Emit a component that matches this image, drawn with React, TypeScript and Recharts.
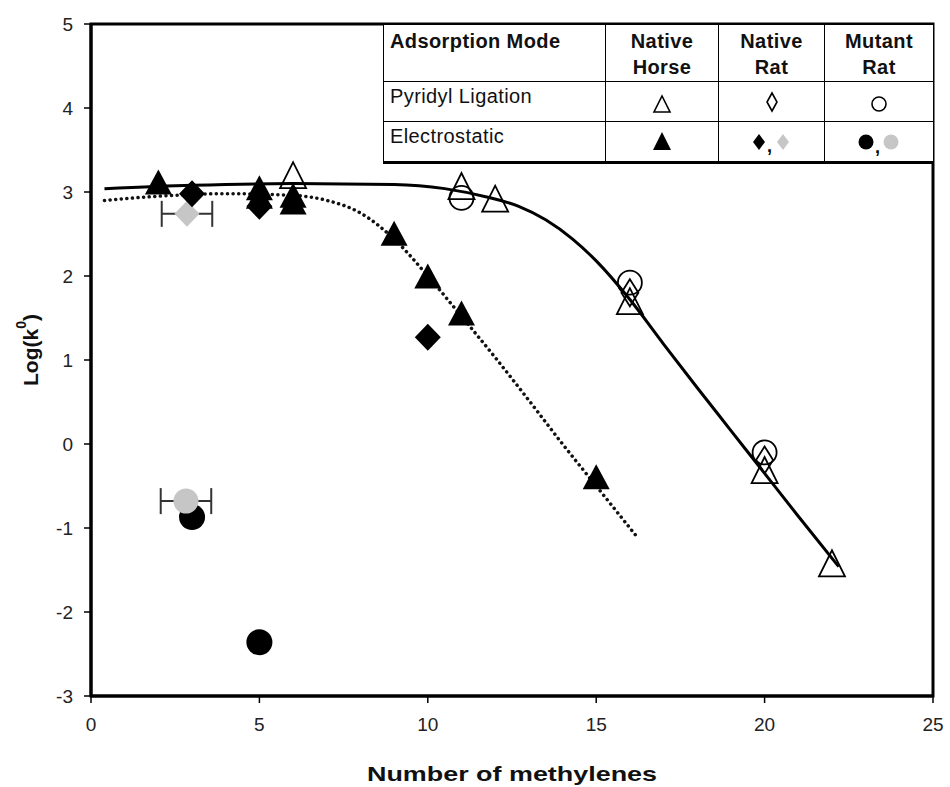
import React from 'react';
import { ComposedChart, Scatter, Line, XAxis, YAxis, ReferenceArea, ErrorBar, Label } from 'recharts';

// x ticks / y ticks
const xTicks = [0, 5, 10, 15, 20, 25];
const yTicks = [-3, -2, -1, 0, 1, 2, 3, 4, 5];

// pyridyl ligation (open symbols)
const horsePyridyl = [
  { x: 6, y: 3.2 }, { x: 11, y: 3.07 }, { x: 12, y: 2.92 },
  { x: 16, y: 1.7 }, { x: 20, y: -0.31 }, { x: 22, y: -1.42 },
];
const ratPyridyl = [{ x: 16, y: 1.8 }, { x: 20, y: -0.19 }];
const mutantPyridyl = [{ x: 11, y: 2.93 }, { x: 16, y: 1.92 }, { x: 20, y: -0.1 }];

// electrostatic (filled symbols)
const horseElectro = [
  { x: 2, y: 3.12 }, { x: 5, y: 3.05 }, { x: 5, y: 2.95 }, { x: 6, y: 2.96 }, { x: 6, y: 2.88 },
  { x: 9, y: 2.51 }, { x: 10, y: 2.0 }, { x: 11, y: 1.56 }, { x: 15, y: -0.39 },
];
const ratElectro = [{ x: 3, y: 2.98 }, { x: 5, y: 2.83 }, { x: 10, y: 1.27 }];
const ratElectroGray = [{ x: 2.85, y: 2.74, err: 0.75 }];
const mutantElectro = [{ x: 3, y: -0.87 }, { x: 5, y: -2.36 }];
const mutantElectroGray = [{ x: 2.82, y: -0.68, err: 0.75 }];

// fitted curves
const pyridylFit = [
  { x: 0.4, y: 3.04 }, { x: 3, y: 3.08 }, { x: 6, y: 3.1 }, { x: 9, y: 3.09 }, { x: 10.5, y: 3.04 },
  { x: 11.75, y: 2.94 }, { x: 12.7, y: 2.83 }, { x: 13.5, y: 2.67 }, { x: 14.3, y: 2.44 }, { x: 15, y: 2.18 },
  { x: 16, y: 1.72 }, { x: 17, y: 1.19 }, { x: 18, y: 0.67 }, { x: 19, y: 0.16 }, { x: 20, y: -0.35 },
  { x: 21, y: -0.86 }, { x: 22.2, y: -1.46 },
];
const electroFit = [
  { x: 0.4, y: 2.9 }, { x: 2, y: 2.95 }, { x: 4, y: 2.98 }, { x: 6, y: 2.96 }, { x: 7, y: 2.9 },
  { x: 8, y: 2.75 }, { x: 9, y: 2.44 }, { x: 10, y: 2.0 }, { x: 11, y: 1.52 }, { x: 12, y: 1.03 },
  { x: 13, y: 0.52 }, { x: 14, y: 0.0 }, { x: 15, y: -0.5 }, { x: 16.2, y: -1.1 },
];

const GRAY = '#c6c6c6';
const FONT = '"Liberation Sans", Arial, sans-serif';

const tri = (fill: string, stroke: string, w: number, h: number) => (p: any) => (
  <polygon
    points={`${p.cx - w / 2},${p.cy + h / 2} ${p.cx + w / 2},${p.cy + h / 2} ${p.cx},${p.cy - h / 2}`}
    fill={fill} stroke={stroke} strokeWidth={1.8} strokeLinejoin="miter"
  />
);
const dia = (fill: string, stroke: string, w: number, h: number) => (p: any) => (
  <polygon
    points={`${p.cx},${p.cy - h / 2} ${p.cx + w / 2},${p.cy} ${p.cx},${p.cy + h / 2} ${p.cx - w / 2},${p.cy}`}
    fill={fill} stroke={stroke} strokeWidth={1.8}
  />
);
const dot = (fill: string, stroke: string, r: number) => (p: any) => (
  <circle cx={p.cx} cy={p.cy} r={r} fill={fill} stroke={stroke} strokeWidth={1.8} />
);

const Icon = ({ children, w = 20 }: { children: React.ReactNode; w?: number }) => (
  <svg width={w} height={26} style={{ verticalAlign: 'top', overflow: 'visible' }}>{children}</svg>
);

const cell: React.CSSProperties = { border: '1.5px solid #000', padding: 0, verticalAlign: 'top' };
const head: React.CSSProperties = { ...cell, fontWeight: 'bold', textAlign: 'center', lineHeight: '26px', paddingTop: 3 };

const LegendTable = () => (
  <table
    style={{
      position: 'absolute', left: 383, top: 24, width: 550, height: 138,
      borderCollapse: 'collapse', tableLayout: 'fixed', fontFamily: FONT, fontSize: 20,
      letterSpacing: 0.4, color: '#111', background: '#fff', borderBottom: '3px solid #000',
    }}
  >
    <colgroup>
      <col style={{ width: 222 }} /><col style={{ width: 113 }} /><col style={{ width: 106 }} /><col style={{ width: 109 }} />
    </colgroup>
    <tbody>
      <tr style={{ height: 57 }}>
        <td style={{ ...cell, fontWeight: 'bold', paddingLeft: 6, paddingTop: 5 }}>Adsorption Mode</td>
        <td style={head}>Native<br />Horse</td>
        <td style={head}>Native<br />Rat</td>
        <td style={head}>Mutant<br />Rat</td>
      </tr>
      <tr style={{ height: 40 }}>
        <td style={{ ...cell, paddingLeft: 6, paddingTop: 3 }}>Pyridyl Ligation</td>
        <td style={{ ...cell, textAlign: 'center', paddingTop: 12 }}>
          <Icon><polygon points="2,18 18,18 10,2" fill="none" stroke="#000" strokeWidth={1.6} /></Icon>
        </td>
        <td style={{ ...cell, textAlign: 'center', paddingTop: 10 }}>
          <Icon><polygon points="10,1 15,10 10,19 5,10" fill="none" stroke="#000" strokeWidth={1.6} /></Icon>
        </td>
        <td style={{ ...cell, textAlign: 'center', paddingTop: 12 }}>
          <Icon><circle cx={10} cy={10} r={7} fill="none" stroke="#000" strokeWidth={1.6} /></Icon>
        </td>
      </tr>
      <tr style={{ height: 41 }}>
        <td style={{ ...cell, paddingLeft: 6, paddingTop: 3 }}>Electrostatic</td>
        <td style={{ ...cell, textAlign: 'center', paddingTop: 9 }}>
          <Icon><polygon points="1,19 19,19 10,1" fill="#000" /></Icon>
        </td>
        <td style={{ ...cell, textAlign: 'center', paddingTop: 9 }}>
          <Icon w={46}>
            <polygon points="10,3 16,11 10,19 4,11" fill="#000" />
            <text x={18} y={21} fontSize={18} fontWeight="bold" fill="#000" fontFamily={FONT}>,</text>
            <polygon points="34,3 40,11 34,19 28,11" fill={GRAY} />
          </Icon>
        </td>
        <td style={{ ...cell, textAlign: 'center', paddingTop: 9 }}>
          <Icon w={46}>
            <circle cx={10} cy={11} r={7.5} fill="#000" />
            <text x={19} y={22} fontSize={18} fontWeight="bold" fill="#000" fontFamily={FONT}>,</text>
            <circle cx={35} cy={11} r={7.5} fill={GRAY} />
          </Icon>
        </td>
      </tr>
    </tbody>
  </table>
);

const yLabel = (props: any) => {
  const { viewBox } = props;
  const cx = viewBox.x + 30;
  const cy = viewBox.y + viewBox.height / 2 - 10;
  return (
    <text x={cx} y={cy} transform={`rotate(-90 ${cx} ${cy})`} textAnchor="middle" dominantBaseline="central"
      fontFamily={FONT} fontWeight="bold" fontSize={21} fill="#111">
      Log(k<tspan fontSize={14} dy={-9}>0</tspan><tspan dy={9}>)</tspan>
    </text>
  );
};

const xLabel = (props: any) => {
  const { viewBox } = props;
  return (
    <text x={viewBox.x + viewBox.width / 2} y={viewBox.y + 77} textAnchor="middle" dominantBaseline="central"
      fontFamily={FONT} fontWeight="bold" fontSize={21} fill="#111" textLength={290} lengthAdjust="spacingAndGlyphs">
      Number of methylenes
    </text>
  );
};

export default function App() {
  const tick = { fontSize: 19, fill: '#222', fontFamily: FONT };
  return (
    <div style={{ position: 'absolute', left: 0, top: 0, width: 950, height: 787, background: '#fff' }}>
      <ComposedChart width={950} height={787} margin={{ top: 24, right: 17, left: 0, bottom: 0 }}>
        <XAxis type="number" dataKey="x" domain={[0, 25]} ticks={xTicks} allowDataOverflow
          height={91} tickSize={7} tickMargin={15} tick={tick}
          axisLine={{ stroke: '#000', strokeWidth: 3 }} tickLine={{ stroke: '#000', strokeWidth: 1.5 }}>
          <Label content={xLabel} />
        </XAxis>
        <YAxis type="number" dataKey="y" domain={[-3, 5]} ticks={yTicks} allowDataOverflow
          width={91} tickSize={7} tickMargin={11} tick={tick}
          axisLine={{ stroke: '#000', strokeWidth: 3 }} tickLine={{ stroke: '#000', strokeWidth: 1.5 }}>
          <Label content={yLabel} />
        </YAxis>
        <ReferenceArea x1={0} x2={25} y1={-3} y2={5} fill="none" stroke="#000" strokeWidth={3} />

        <Line data={pyridylFit} dataKey="y" type="monotone" dot={false} stroke="#000" strokeWidth={3}
          isAnimationActive={false} />
        <Line data={electroFit} dataKey="y" type="monotone" dot={false} stroke="#111" strokeWidth={3.5}
          strokeDasharray="0.1 5.5" strokeLinecap="round" isAnimationActive={false} />

        <Scatter data={ratElectroGray} shape={dia(GRAY, 'none', 25, 26)} isAnimationActive={false}>
          <ErrorBar dataKey="err" direction="x" width={13} stroke="#333" strokeWidth={2} />
        </Scatter>
        <Scatter data={ratElectro} shape={dia('#000', 'none', 26, 27)} isAnimationActive={false} />
        <Scatter data={mutantElectro} shape={dot('#000', 'none', 13)} isAnimationActive={false} />
        <Scatter data={mutantElectroGray} shape={dot(GRAY, 'none', 12.5)} isAnimationActive={false}>
          <ErrorBar dataKey="err" direction="x" width={13} stroke="#333" strokeWidth={2} />
        </Scatter>
        <Scatter data={horseElectro} shape={tri('#000', 'none', 27, 25)} isAnimationActive={false} />
        <Scatter data={horsePyridyl} shape={tri('none', '#000', 26, 26)} isAnimationActive={false} />
        <Scatter data={ratPyridyl} shape={dia('none', '#000', 17, 27)} isAnimationActive={false} />
        <Scatter data={mutantPyridyl} shape={dot('none', '#000', 12)} isAnimationActive={false} />
      </ComposedChart>
      <LegendTable />
    </div>
  );
}
